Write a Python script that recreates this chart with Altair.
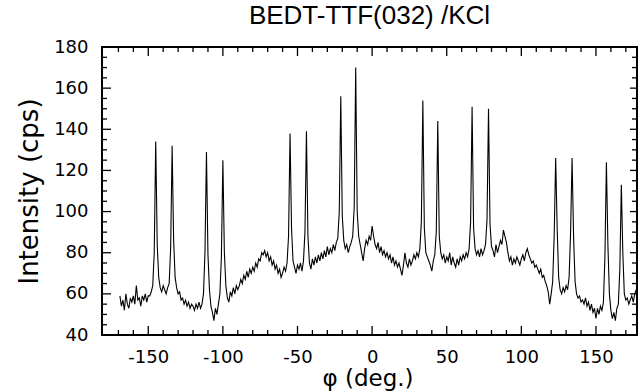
import altair as alt
import pandas as pd

# phi scan: start at -169 deg, 1 deg step
phi_start = -169
phi_step = 1
intensity = [
    59, 54, 57, 52, 60, 55, 53, 58, 56, 59,      # -169..-160
    55, 64, 57, 58, 54, 59, 57, 60, 56, 59,      # -159..-150
    59, 61, 64, 80, 134, 84, 68, 63, 61, 64,     # -149..-140
    62, 60, 63, 65, 82, 132, 86, 68, 63, 60,     # -139..-130
    61, 57, 58, 55, 57, 54, 56, 53, 55, 54,      # -129..-120
    52, 55, 53, 56, 53, 55, 60, 80, 129, 79,     # -119..-110
    62, 54, 51, 47, 53, 50, 55, 60, 78, 125,     # -109..-100
    80, 64, 58, 56, 61, 59, 63, 60, 64, 62,      # -99..-90
    64, 67, 65, 69, 67, 71, 68, 72, 70, 73,      # -89..-80
    71, 75, 73, 77, 76, 80, 79, 81, 78, 80,      # -79..-70
    76, 78, 74, 76, 72, 74, 70, 72, 68, 70,      # -69..-60
    73, 71, 75, 88, 138, 92, 76, 73, 70, 74,     # -59..-50
    72, 75, 71, 76, 90, 139, 88, 75, 72, 77,     # -49..-40
    74, 78, 75, 79, 76, 80, 77, 81, 78, 83,      # -39..-30
    79, 82, 80, 84, 81, 85, 87, 100, 156, 98,    # -29..-20
    86, 82, 84, 80, 83, 85, 88, 102, 170, 100,   # -19..-10
    88, 84, 80, 76, 82, 86, 84, 88, 86, 93,      # -9..0
    88, 84, 82, 85, 80, 83, 79, 81, 78, 80,      # 1..10
    77, 79, 75, 78, 74, 76, 73, 75, 72, 69,      # 11..20
    74, 80, 75, 73, 77, 74, 76, 79, 77, 80,      # 21..30
    78, 82, 95, 154, 92, 80, 78, 76, 74, 71,     # 31..40
    76, 79, 90, 144, 88, 80, 77, 79, 75, 78,     # 41..50
    76, 80, 74, 78, 75, 73, 77, 74, 78, 76,      # 51..60
    79, 77, 80, 78, 82, 95, 151, 92, 82, 79,     # 61..70
    81, 78, 82, 79, 81, 84, 96, 150, 94, 83,     # 71..80
    81, 78, 84, 80, 83, 86, 84, 91, 88, 85,      # 81..90
    80, 76, 78, 74, 77, 75, 78, 76, 74, 77,      # 91..100
    79, 76, 80, 82, 79, 77, 75, 76, 73, 74,      # 101..110
    72, 70, 72, 68, 69, 66, 64, 61, 55, 60,      # 111..120
    66, 88, 126, 92, 68, 62, 60, 63, 61, 64,     # 121..130
    62, 68, 90, 126, 88, 66, 60, 58, 59, 56,     # 131..140
    57, 55, 58, 54, 56, 52, 55, 51, 53, 48,      # 141..150
    53, 50, 54, 52, 56, 78, 124, 84, 60, 52,     # 151..160
    48, 51, 47, 53, 55, 72, 113, 80, 60, 57,     # 161..170
    58, 55, 57, 59, 56, 60, 62,                  # 171..177
]
phi = [phi_start + i * phi_step for i in range(len(intensity))]

x_major = [-150, -100, -50, 0, 50, 100, 150]
x_minor = [-170, -160, -140, -130, -120, -110, -90, -80, -70, -60, -40, -30, -20, -10,
           10, 20, 30, 40, 60, 70, 80, 90, 110, 120, 130, 140, 160, 170]
y_major = [40, 60, 80, 100, 120, 140, 160, 180]
y_minor = [45, 50, 55, 65, 70, 75, 85, 90, 95, 105, 110, 115, 125, 130, 135,
           145, 150, 155, 165, 170, 175]

W, H = 535, 288
xscale = alt.Scale(domain=[-181, 177.5], nice=False, zero=False)
yscale = alt.Scale(domain=[40, 180], nice=False, zero=False)

xaxis = alt.Axis(values=x_major, title="φ (deg.)", labelExpr="'' + datum.value",
                 labelPadding=27, labelBaseline="alphabetic",
                 titleFontSize=23, titleX=265.5, titleY=50,
                 titleAlign="center", titleBaseline="alphabetic")
yaxis = alt.Axis(values=y_major, title="Intensity (cps)", labelPadding=14,
                 titleFontSize=26, titleAngle=270, titleX=-65, titleY=144,
                 titleAlign="center", titleBaseline="alphabetic")

df = pd.DataFrame({"phi": phi, "intensity": intensity})

line = alt.Chart(df).mark_line(color="black", strokeWidth=1.1).encode(
    x=alt.X("phi:Q", scale=xscale, axis=xaxis),
    y=alt.Y("intensity:Q", scale=yscale, axis=yaxis),
)


def xticks(vals, length, top):
    d = pd.DataFrame({"phi": vals})
    if top:
        yy, yy2 = alt.value(0), alt.value(length)
    else:
        yy, yy2 = alt.value(H), alt.value(H - length)
    return alt.Chart(d).mark_rule(color="black", strokeWidth=1.3).encode(
        x=alt.X("phi:Q", scale=xscale, axis=xaxis), y=yy, y2=yy2)


def yticks(vals, length, right):
    d = pd.DataFrame({"intensity": vals})
    if right:
        xx, xx2 = alt.value(W), alt.value(W - length)
    else:
        xx, xx2 = alt.value(0), alt.value(length)
    return alt.Chart(d).mark_rule(color="black", strokeWidth=1.3).encode(
        y=alt.Y("intensity:Q", scale=yscale, axis=yaxis), x=xx, x2=xx2)


layers = [
    line,
    xticks(x_major, 9, False), xticks(x_minor, 5, False),
    xticks(x_major, 9, True), xticks(x_minor, 5, True),
    yticks(y_major, 9, False), yticks(y_minor, 5, False),
    yticks(y_major, 7, True), yticks(y_minor, 5, True),
]

chart = alt.layer(*layers).properties(
    width=W, height=H,
    title=alt.TitleParams(text="BEDT-TTF(032) /KCl", font="Liberation Sans", fontSize=26,
                          fontWeight="normal", color="black", offset=9, anchor="middle",
                          baseline="alphabetic", dy=21),
    autosize=alt.AutoSizeParams(type="none"),
    padding={"left": 102, "top": 47, "right": 4, "bottom": 57},
).configure_view(
    stroke="black", strokeWidth=2
).configure_axis(
    grid=False, domain=False, ticks=False, tickSize=0,
    labelFont="DejaVu Sans", labelFontSize=18, labelColor="black",
    titleFont="DejaVu Sans", titleColor="black", titleFontWeight="normal",
)

chart.save("out.html", embed_options={"renderer": "svg", "actions": False})
